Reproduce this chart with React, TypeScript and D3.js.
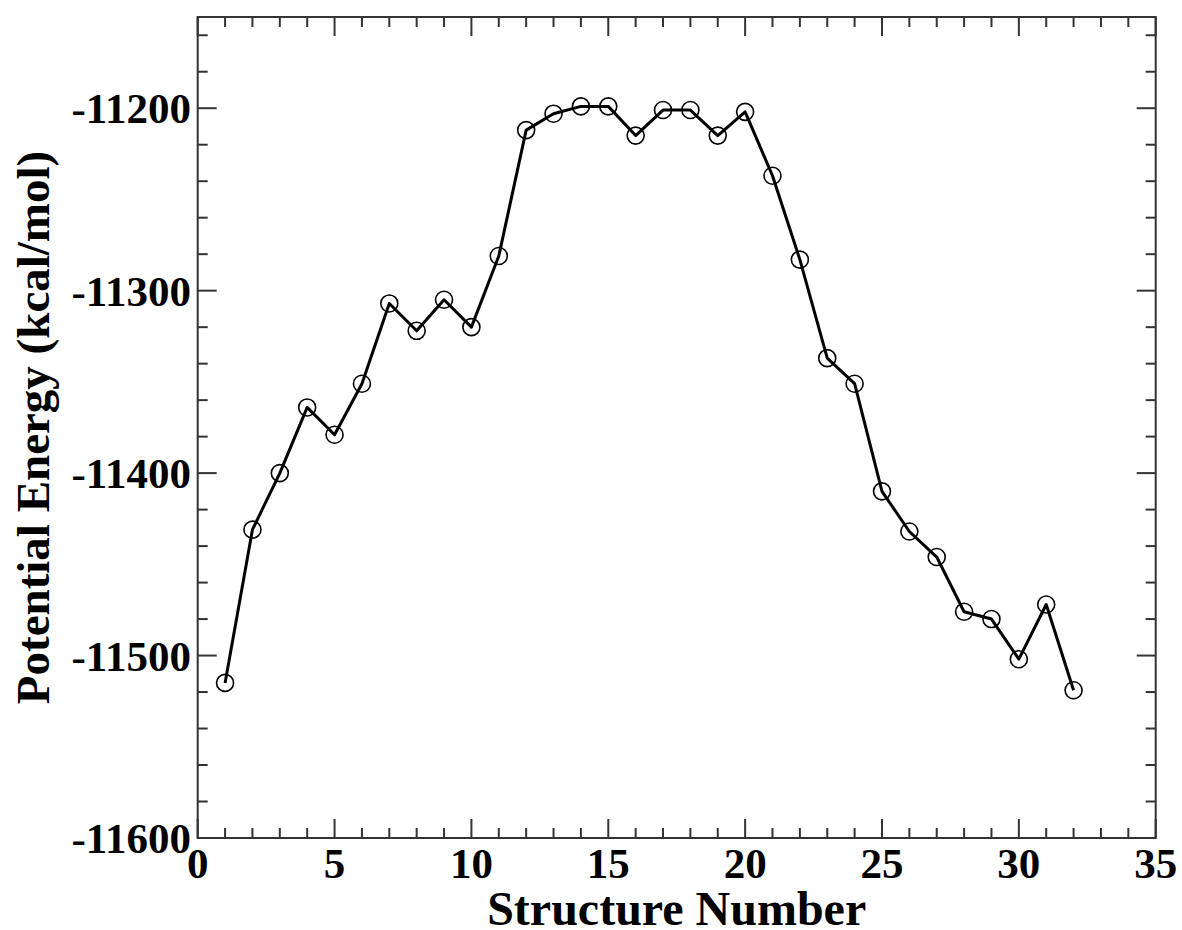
import React from "react";
import * as d3 from "d3";

const structureNumbers = [
  1, 2, 3, 4, 5, 6, 7, 8, 9, 10, 11, 12, 13, 14, 15, 16,
  17, 18, 19, 20, 21, 22, 23, 24, 25, 26, 27, 28, 29, 30, 31, 32,
];
const energies = [
  -11515, -11431, -11400, -11364, -11379, -11351, -11307, -11322,
  -11305, -11320, -11281, -11212, -11203, -11199, -11199, -11215,
  -11201, -11201, -11215, -11202, -11237, -11283, -11337, -11351,
  -11410, -11432, -11446, -11476, -11480, -11502, -11472, -11519,
];
const xMajorTicks = [0, 5, 10, 15, 20, 25, 30, 35];
const yMajorTicks = [-11600, -11500, -11400, -11300, -11200];
const xTitle = "Structure Number";
const yTitle = "Potential Energy (kcal/mol)";

const W = 1182;
const H = 930;
const left = 197.7;
const right = 1155.7;
const top = 17;
const bottom = 838;
const font = "'Liberation Serif', 'Times New Roman', serif";

export default function App() {
  const x = d3.scaleLinear().domain([0, 35]).range([left, right]);
  const y = d3.scaleLinear().domain([-11600, -11150]).range([bottom, top]);
  const xMinor = d3.range(0, 36, 1).filter((v) => v % 5 !== 0);
  const yMinor = d3.range(-11600, -11149, 20).filter((v) => v % 100 !== 0);
  const yMajorAll = [...yMajorTicks];
  const line = d3
    .line<number>()
    .x((_, i) => x(structureNumbers[i]))
    .y((d) => y(d));
  const axisColor = "#333";
  const majorLen = 19;
  const minorLen = 10;

  return (
    <svg
      width={W}
      height={H}
      style={{ position: "absolute", left: 0, top: 0, background: "#fff" }}
    >
      <rect x={0} y={0} width={W} height={H} fill="#fff" />
      {/* ticks */}
      <g stroke={axisColor} strokeWidth={2}>
        {xMajorTicks.map((v) => (
          <g key={"xm" + v}>
            <line x1={x(v)} x2={x(v)} y1={bottom} y2={bottom - majorLen} />
            <line x1={x(v)} x2={x(v)} y1={top} y2={top + majorLen} />
          </g>
        ))}
        {xMinor.map((v) => (
          <g key={"xn" + v}>
            <line x1={x(v)} x2={x(v)} y1={bottom} y2={bottom - minorLen} />
            <line x1={x(v)} x2={x(v)} y1={top} y2={top + minorLen} />
          </g>
        ))}
        {yMajorAll.map((v) => (
          <g key={"ym" + v}>
            <line x1={left} x2={left + majorLen} y1={y(v)} y2={y(v)} />
            <line x1={right} x2={right - majorLen} y1={y(v)} y2={y(v)} />
          </g>
        ))}
        {yMinor.map((v) => (
          <g key={"yn" + v}>
            <line x1={left} x2={left + minorLen} y1={y(v)} y2={y(v)} />
            <line x1={right} x2={right - minorLen} y1={y(v)} y2={y(v)} />
          </g>
        ))}
      </g>
      <rect
        x={left}
        y={top}
        width={right - left}
        height={bottom - top}
        fill="none"
        stroke={axisColor}
        strokeWidth={2}
      />
      {/* data line */}
      <path
        d={line(energies) || ""}
        fill="none"
        stroke="#000"
        strokeWidth={3}
        strokeLinejoin="round"
      />
      {energies.map((v, i) => (
        <circle
          key={"c" + i}
          cx={x(structureNumbers[i])}
          cy={y(v)}
          r={8.5}
          fill="none"
          stroke="#000"
          strokeWidth={1.6}
        />
      ))}
      {/* tick labels */}
      <g fontFamily={font} fontWeight="bold" fontSize={43} fill="#000">
        {xMajorTicks.map((v) => (
          <text key={"xl" + v} x={x(v)} y={bottom + 40} textAnchor="middle">
            {v}
          </text>
        ))}
        {yMajorTicks.map((v) => (
          <text key={"yl" + v} x={191} y={y(v) + 15} textAnchor="end">
            {v}
          </text>
        ))}
      </g>
      {/* titles */}
      <text
        x={(left + right) / 2}
        y={925}
        textAnchor="middle"
        fontFamily={font}
        fontWeight="bold"
        fontSize={48}
        fill="#000"
      >
        {xTitle}
      </text>
      <text
        transform={`translate(49, ${(top + bottom) / 2}) rotate(-90)`}
        textAnchor="middle"
        fontFamily={font}
        fontWeight="bold"
        fontSize={47}
        fill="#000"
      >
        {yTitle}
      </text>
    </svg>
  );
}
